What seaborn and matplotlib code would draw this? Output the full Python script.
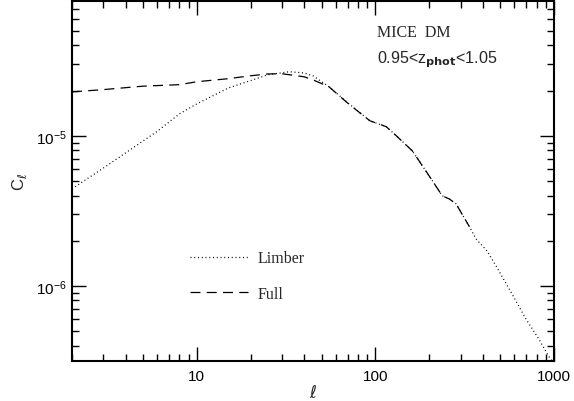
import matplotlib
matplotlib.use("Agg")
import matplotlib.pyplot as plt
import matplotlib.ticker as mticker
import seaborn as sns
import pandas as pd

# Limber approximation (dotted)
ell_limber = [2, 3, 4, 6, 8, 10, 15, 20, 25, 33, 40, 45, 55, 70, 93, 115, 131,
              161, 200, 237, 259, 283, 335, 366, 422, 474, 582, 698, 823, 935, 1000]
cl_limber = [4.43e-6, 6.1e-6, 7.7e-6, 1.07e-5, 1.4e-5, 1.63e-5, 2.08e-5, 2.33e-5,
             2.55e-5, 2.67e-5, 2.62e-5, 2.5e-5, 2.12e-5, 1.66e-5, 1.26e-5, 1.15e-5,
             1.0e-5, 7.94e-6, 5.41e-6, 3.98e-6, 3.8e-6, 3.52e-6, 2.5e-6, 2.06e-6,
             1.71e-6, 1.36e-6, 8.85e-7, 6.0e-7, 4.43e-7, 3.4e-7, 3.05e-7]

# full calculation (dashed)
ell_full = [2, 3, 5, 8, 10, 15, 20, 25, 30, 40, 45, 55, 70, 93, 115, 131, 161,
            200, 237, 259, 283, 335]
cl_full = [1.96e-5, 2.03e-5, 2.14e-5, 2.19e-5, 2.29e-5, 2.4e-5, 2.51e-5, 2.58e-5,
           2.59e-5, 2.47e-5, 2.35e-5, 2.12e-5, 1.65e-5, 1.26e-5, 1.15e-5, 1.0e-5,
           7.94e-6, 5.41e-6, 3.98e-6, 3.8e-6, 3.52e-6, 2.5e-6]

limber = pd.DataFrame({"ell": ell_limber, "cl": cl_limber})
full = pd.DataFrame({"ell": ell_full, "cl": cl_full})

sns.set_style("ticks")
plt.rcParams["font.family"] = ["Liberation Sans", "DejaVu Sans"]

fig = plt.figure(figsize=(5.74, 4.02), dpi=100)
ax = fig.add_axes([0.1254, 0.0995, 0.8396, 0.8955])

sns.lineplot(data=limber, x="ell", y="cl", ax=ax, color="black", lw=0.9,
             linestyle=(0, (0.8, 2.2)), label="Limber", estimator=None, sort=False)
sns.lineplot(data=full, x="ell", y="cl", ax=ax, color="black", lw=0.9,
             linestyle=(0, (8, 5)), label="Full", estimator=None, sort=False)

ax.set(xscale="log", yscale="log")
ax.set_xlim(2, 1000)
ax.set_ylim(3.16e-7, 7.9e-5)

ax.xaxis.set_major_formatter(mticker.FuncFormatter(lambda v, p: f"{v:g}"))
ax.xaxis.set_minor_formatter(mticker.NullFormatter())
ax.yaxis.set_minor_formatter(mticker.NullFormatter())

ax.tick_params(which="both", direction="in", top=True, right=True, color="black",
               labelsize=11, labelcolor="black")
ax.tick_params(which="major", length=10, width=1.0)
ax.tick_params(which="minor", length=5, width=1.0)
ax.tick_params(axis="x", pad=6)
for s in ax.spines.values():
    s.set_linewidth(1.5)
    s.set_color("black")

ax.set_xlabel(r"$\ell$", fontsize=12, labelpad=0)
ax.set_ylabel(r"C$_\ell$", fontsize=12, labelpad=5)

ax.text(0.632, 0.915, "MICE  DM", transform=ax.transAxes, fontsize=11.5,
        family="Liberation Serif", va="center")
ax.text(0.632, 0.84, r"0.95<z$_{\mathbf{phot}}$<1.05", transform=ax.transAxes,
        fontsize=11.6, va="center")

leg = ax.legend(loc="upper left", bbox_to_anchor=(0.245, 0.307), frameon=False,
                handlelength=3.6, handletextpad=0.6, labelspacing=1.2,
                borderpad=0, borderaxespad=0,
                prop={"family": "Liberation Serif", "size": 11.5})

fig.savefig("out.png", dpi=100)
